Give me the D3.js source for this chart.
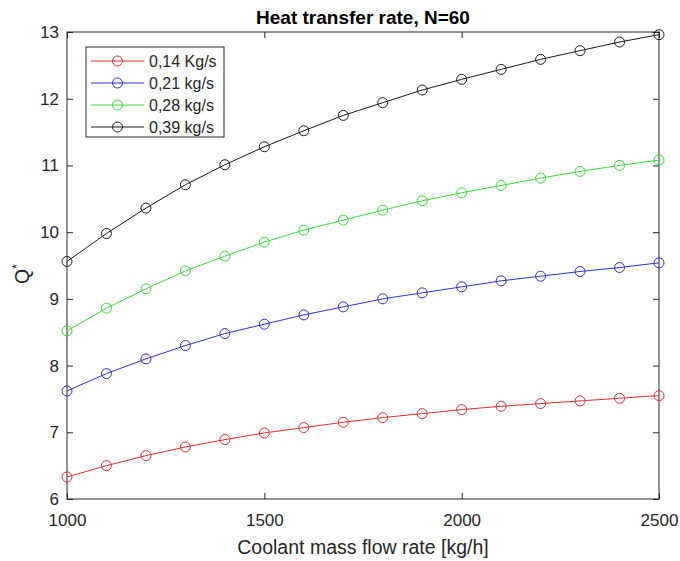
<!DOCTYPE html>
<html>
<head>
<meta charset="utf-8">
<script src="https://d3js.org/d3.v7.min.js"></script>
<style>
  body { margin: 0; background: #fff; }
  text { font-family: "Liberation Sans", Arial, sans-serif; fill: #262626; }
</style>
</head>
<body>
<script>
// Data
const flowRate = [1000, 1100, 1200, 1300, 1400, 1500, 1600, 1700, 1800, 1900, 2000, 2100, 2200, 2300, 2400, 2500];
const q014 = [6.33, 6.50, 6.65, 6.78, 6.89, 6.99, 7.07, 7.15, 7.22, 7.28, 7.34, 7.39, 7.43, 7.47, 7.51, 7.55];
const q021 = [7.62, 7.88, 8.10, 8.30, 8.48, 8.62, 8.76, 8.88, 9.00, 9.09, 9.18, 9.27, 9.34, 9.41, 9.47, 9.54];
const q028 = [8.52, 8.86, 9.15, 9.42, 9.64, 9.85, 10.03, 10.18, 10.33, 10.47, 10.59, 10.70, 10.81, 10.91, 11.00, 11.08];
const q039 = [9.56, 9.98, 10.36, 10.71, 11.01, 11.28, 11.52, 11.75, 11.94, 12.13, 12.29, 12.44, 12.59, 12.72, 12.85, 12.96];
const seriesNames = ["0,14 Kg/s", "0,21 kg/s", "0,28 kg/s", "0,39 kg/s"];
const seriesColors = ["#dc3030", "#3030cc", "#38dc38", "#1a1a1a"];
const xTicks = [1000, 1500, 2000, 2500];
const yTicks = [6, 7, 8, 9, 10, 11, 12, 13];

const series = [q014, q021, q028, q039].map((vals, i) => ({
  name: seriesNames[i], color: seriesColors[i],
  points: vals.map((v, j) => ({x: flowRate[j], y: v}))
}));

const width = 680, height = 561;
const margin = {left: 67, right: 21, top: 32, bottom: 62};
const iw = width - margin.left - margin.right;
const ih = height - margin.top - margin.bottom;

const svg = d3.select("body").append("svg")
  .attr("width", width).attr("height", height);

const x = d3.scaleLinear().domain([1000, 2500]).range([margin.left, margin.left + iw]);
const y = d3.scaleLinear().domain([6, 13]).range([margin.top + ih, margin.top]);

// box
svg.append("rect")
  .attr("x", margin.left).attr("y", margin.top)
  .attr("width", iw).attr("height", ih)
  .attr("fill", "none").attr("stroke", "#262626").attr("stroke-width", 1);

// axes with inward ticks
const tl = 6;
const fmt = d3.format("d");
function styleAxis(g) {
  g.select(".domain").remove();
  g.selectAll(".tick line").attr("stroke", "#262626");
  g.selectAll(".tick text").style("font-size", "17px")
    .style("font-family", "'Liberation Sans', Arial, sans-serif").attr("fill", "#262626");
}
svg.append("g").attr("transform", `translate(0,${margin.top + ih})`)
  .call(d3.axisBottom(x).tickValues(xTicks).tickFormat(fmt).tickSizeInner(-tl).tickSizeOuter(0).tickPadding(15))
  .call(styleAxis);
svg.append("g").attr("transform", `translate(0,${margin.top})`)
  .call(d3.axisTop(x).tickValues(xTicks).tickSizeInner(-tl).tickSizeOuter(0).tickFormat(""))
  .call(styleAxis);
svg.append("g").attr("transform", `translate(${margin.left},0)`)
  .call(d3.axisLeft(y).tickValues(yTicks).tickFormat(fmt).tickSizeInner(-tl).tickSizeOuter(0).tickPadding(8))
  .call(styleAxis);
svg.append("g").attr("transform", `translate(${margin.left + iw},0)`)
  .call(d3.axisRight(y).tickValues(yTicks).tickSizeInner(-tl).tickSizeOuter(0).tickFormat(""))
  .call(styleAxis);

// lines and markers
const line = d3.line().x(d => x(d.x)).y(d => y(d.y));
const sg = svg.selectAll(".series").data(series).join("g").attr("class", "series");
sg.append("path")
  .attr("d", d => line(d.points))
  .attr("fill", "none").attr("stroke", d => d.color).attr("stroke-width", 1);
sg.selectAll("circle").data(d => d.points.map(p => ({...p, color: d.color}))).join("circle")
  .attr("cx", d => x(d.x)).attr("cy", d => y(d.y)).attr("r", 5)
  .attr("fill", "none").attr("stroke", d => d.color).attr("stroke-width", 1);

// title and labels
svg.append("text").attr("x", margin.left + iw / 2).attr("y", 24)
  .attr("text-anchor", "middle").style("font-size", "19px").style("font-weight", "bold")
  .style("fill", "#000").text("Heat transfer rate, N=60");
svg.append("text").attr("x", margin.left + iw / 2).attr("y", 554)
  .attr("text-anchor", "middle").style("font-size", "19.5px")
  .text("Coolant mass flow rate [kg/h]");
const yl = svg.append("text").attr("transform", `translate(29,274) rotate(-90)`)
  .attr("text-anchor", "middle").style("font-size", "19.5px");
yl.append("tspan").text("Q");
yl.append("tspan").attr("dy", -8).style("font-size", "13px").text("*");

// legend
const lg = svg.append("g").attr("transform", "translate(86,47)");
lg.append("rect").attr("width", 138).attr("height", 90)
  .attr("fill", "#fff").attr("stroke", "#262626").attr("stroke-width", 1);
const rows = lg.selectAll(".row").data(series).join("g")
  .attr("transform", (d, i) => `translate(0,${14 + i * 22})`);
rows.append("line").attr("x1", 5).attr("x2", 58)
  .attr("stroke", d => d.color).attr("stroke-width", 1);
rows.append("circle").attr("cx", 31.5).attr("r", 5)
  .attr("fill", "none").attr("stroke", d => d.color);
rows.append("text").attr("x", 63).attr("dy", "0.35em")
  .style("font-size", "16px").text(d => d.name);
</script>
</body>
</html>
